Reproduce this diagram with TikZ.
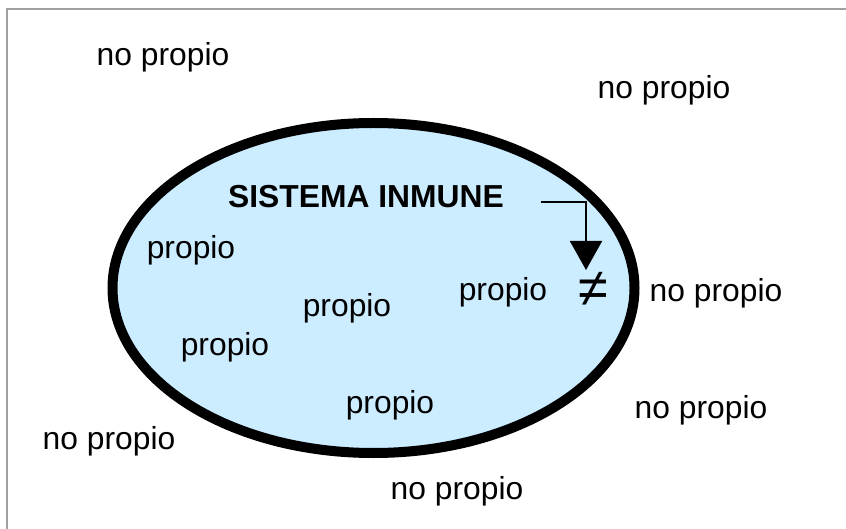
\documentclass[tikz,border=0pt]{standalone}
\usepackage{fontspec}
\setmainfont{Liberation Sans}
\usetikzlibrary{arrows.meta}
\definecolor{cellblue}{HTML}{CCECFF}
\definecolor{framegray}{HTML}{A0A0A0}
\tikzset{
  lbl/.style={inner sep=0pt, font=\fontsize{31.8}{38}\selectfont},
  title/.style={inner sep=0pt, font=\fontsize{31.8}{38}\selectfont\bfseries},
  membrane/.style={draw=black, line width=10pt, fill=cellblue},
  pointer/.style={draw=black, line width=2pt, -{Triangle[width=32pt,length=29pt]}}
}
\begin{document}
\begin{tikzpicture}[x=1pt,y=-1pt]
\useasboundingbox (0,0) rectangle (846,529);
\draw[framegray, line width=2.2pt] (7,529) -- (7,9) -- (846,9);
\path[membrane] (373.5,288) ellipse [x radius=261, y radius=165];
\node[lbl] (np1) at (163,57) {no propio};
\node[lbl] (np2) at (664,90) {no propio};
\node[lbl] (np3) at (716,293) {no propio};
\node[lbl] (np4) at (701,410) {no propio};
\node[lbl] (np5) at (109,441) {no propio};
\node[lbl] (np6) at (457,491) {no propio};
\node[title] (si) at (366,197) {SISTEMA INMUNE};
\node[lbl] (p1) at (191,250) {propio};
\node[lbl] (p2) at (347,308) {propio};
\node[lbl] (p3) at (225,347) {propio};
\node[lbl] (p4) at (503,292) {propio};
\node[lbl] (p5) at (390,405) {propio};
\node[inner sep=0pt, font=\fontsize{54}{60}\selectfont] (neq) at (593,289) {≠};
\coordinate (as) at (541,202);
\coordinate (ae) at (586,270);
\draw[pointer] (as) -| (ae);
\end{tikzpicture}
\end{document}
